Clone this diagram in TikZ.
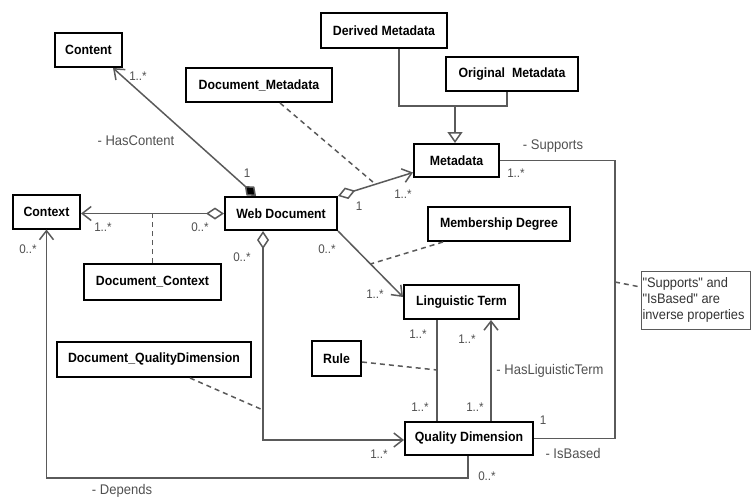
\documentclass[tikz,border=0pt]{standalone}
\usepackage{fontspec}
\setmainfont{Liberation Sans}
\newfontfamily\clsfont[FakeStretch=0.92]{Liberation Sans}
\newfontfamily\lblfont[FakeStretch=0.93]{Liberation Sans}
\usetikzlibrary{arrows.meta,calc}
\definecolor{linegray}{HTML}{5A5A5A}
\definecolor{labelgray}{HTML}{505050}
\begin{document}
\begin{tikzpicture}[x=1pt,y=-1pt,
  cls/.style={draw=black,line width=2pt,fill=white,inner sep=0pt,
    font=\clsfont\fontsize{13.4}{15}\selectfont\bfseries},
  lbl/.style={text=labelgray,inner sep=0pt,font=\lblfont\fontsize{14}{16}\selectfont},
  mult/.style={text=labelgray,inner sep=0pt,font=\lblfont\fontsize{12.5}{14}\selectfont},
  assoc/.style={draw=linegray,line width=1.5pt},
  link/.style={draw=linegray,line width=1.5pt,dashed,dash pattern=on 5pt off 4pt},
  navi/.style={-{Straight Barb[length=9pt,width=14pt]}},
  aggrnavi/.style={{Diamond[open,length=18pt,width=12pt,fill=white]}-{Straight Barb[length=9pt,width=14pt]}},
  compnavi/.style={{Diamond[length=15pt,width=12pt,fill=black]}-{Straight Barb[length=9pt,width=14pt]}},
  gen/.style={-{Triangle[open,length=11pt,width=15pt,fill=white]}}]
\useasboundingbox (0,0) rectangle (751,498);

% classes
\node[cls,minimum width=67pt,minimum height=34pt] (content) at (88.5,50) {Content};
\node[cls,minimum width=126pt,minimum height=35pt] (derived) at (384,30.5) {Derived Metadata};
\node[cls,minimum width=132pt,minimum height=34pt] (original) at (512,74) {Original\ \ Metadata};
\node[cls,minimum width=146pt,minimum height=34pt] (docmeta) at (259,85) {Document\_Metadata};
\node[cls,minimum width=85pt,minimum height=33pt] (metadata) at (456.5,160.5) {Metadata};
\node[cls,minimum width=67pt,minimum height=34pt] (context) at (46.5,211.5) {Context};
\node[cls,minimum width=112pt,minimum height=33pt] (webdoc) at (281,213.5) {Web Document};
\node[cls,minimum width=142pt,minimum height=34pt] (membership) at (499,224) {Membership Degree};
\node[cls,minimum width=137pt,minimum height=36pt] (doccontext) at (152.5,282) {Document\_Context};
\node[cls,minimum width=194pt,minimum height=35pt] (docqd) at (154,359.5) {Document\_QualityDimension};
\node[cls,minimum width=49pt,minimum height=35pt] (rule) at (336.5,358.5) {Rule};
\node[cls,minimum width=115pt,minimum height=34pt] (lt) at (461.5,302) {Linguistic Term};
\node[cls,minimum width=128pt,minimum height=33pt] (qd) at (469,438.5) {Quality Dimension};
\node[draw=linegray,line width=1pt,minimum width=109pt,minimum height=58pt,inner sep=1pt,
  align=left,font=\lblfont\fontsize{13.8}{16}\selectfont,text=black!80] (note) at (695.5,300)
  {\makebox[106pt][l]{"Supports" and}\\"IsBased" are\\inverse properties};

% Web Document -- Content (composition)
\draw[assoc,compnavi] ([xshift=-25pt]webdoc.north) -- ([xshift=-10pt]content.south east);
% Web Document -- Context
\draw[assoc,aggrnavi] (webdoc.west) -- (webdoc.west -| context.east);
\draw[link] (doccontext.north) -- (doccontext.north |- webdoc.west);
% Web Document -- Metadata
\draw[assoc,aggrnavi] (webdoc.north east) -- coordinate[pos=0.5] (wdm) ([yshift=-12pt]metadata.west);
\draw[link] ([xshift=21pt]docmeta.south) -- (wdm);
% Metadata generalisation
\coordinate (gj) at ($(metadata.north)+(-1.5,-37)$);
\draw[assoc] ([xshift=15pt]derived.south) |- ([xshift=-5pt]original.south |- gj) -- ([xshift=-5pt]original.south);
\draw[assoc,gen] (gj) -- (gj |- metadata.north);
% Supports / IsBased
\coordinate (bend) at (615,0);
\draw[assoc] (metadata.east) -| (bend |- qd.east) -- (qd.east);
\coordinate (notept) at (615,282);
\draw[link] (notept) -- ([yshift=13pt]note.west);
% Web Document -- Linguistic Term
\draw[assoc,navi] (webdoc.south east) -- coordinate[pos=0.5] (wdlt) ([yshift=5pt]lt.west);
\draw[link] ([xshift=-56pt]membership.south) -- (wdlt);
% Web Document -- Quality Dimension
\draw[assoc,aggrnavi] ([xshift=-18pt]webdoc.south) |- ([yshift=-1.5pt]qd.west);
\coordinate (wdqd) at ([xshift=-18pt]webdoc.south |- 0,410);
\draw[link] ([xshift=36pt]docqd.south) -- (wdqd);
% Linguistic Term -- Quality Dimension
\draw[assoc] ([xshift=-24.5pt]lt.south) -- ([xshift=-24.5pt]lt.south |- qd.north);
\coordinate (rulept) at ([xshift=-24.5pt]lt.south |- 0,370);
\draw[link] ([yshift=-3.5pt]rule.east) -- (rulept);
\draw[assoc,navi] ([xshift=29.5pt]lt.south |- qd.north) -- ([xshift=29.5pt]lt.south);
% Quality Dimension -- Context
\draw[assoc,navi] ([xshift=-1pt]qd.south) |- (context.south |- 0,478) -- (context.south);

% role names and multiplicities
\node[lbl] (hascontent) at (136,141) {- HasContent};
\node[mult] (m1) at (138,76) {1..*};
\node[mult] (m2) at (247,173) {1};
\node[mult] (m3) at (103,227) {1..*};
\node[mult] (m4) at (200,227) {0..*};
\node[mult] (m5) at (28,249) {0..*};
\node[mult] (m6) at (359,206) {1};
\node[mult] (m7) at (403,194) {1..*};
\node[lbl] (supports) at (553,146) {- Supports};
\node[mult] (m8) at (516,173) {1..*};
\node[mult] (m9) at (543,420) {1};
\node[lbl] (isbased) at (573,453) {- IsBased};
\node[mult] (m10) at (327,249) {0..*};
\node[mult] (m11) at (375,294) {1..*};
\node[mult] (m12) at (242,257) {0..*};
\node[mult] (m13) at (379,454) {1..*};
\node[mult] (m14) at (418,334) {1..*};
\node[mult] (m15) at (420,407) {1..*};
\node[mult] (m16) at (467,339) {1..*};
\node[mult] (m17) at (475,407) {1..*};
\node[lbl] (hasling) at (550,371) {- HasLiguisticTerm};
\node[mult] (m18) at (487,476) {0..*};
\node[lbl] (depends) at (122,491) {- Depends};
\end{tikzpicture}
\end{document}
